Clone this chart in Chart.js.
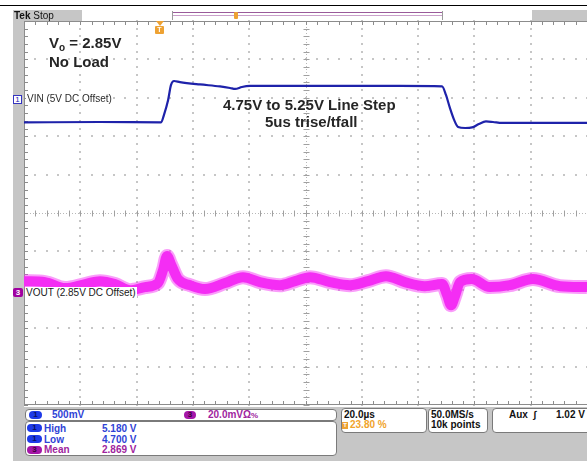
<!DOCTYPE html>
<html><head><meta charset="utf-8">
<script src="https://cdn.jsdelivr.net/npm/chart.js@4.4.0/dist/chart.umd.min.js"></script>
<style>
html,body{margin:0;padding:0;background:#fff;}
#wrap{position:relative;width:587px;height:461px;overflow:hidden;font-family:"Liberation Sans",Arial,sans-serif;}
#c{position:absolute;left:0;top:0;}
.a{position:absolute;white-space:nowrap;line-height:1;}
.box{position:absolute;background:#fff;border:1px solid #7a7a7a;border-radius:4px;box-sizing:border-box;}
.m{font-size:10px;font-weight:bold;}
.blue{color:#2f43d6;}
.purp{color:#a0249e;}
.pill{position:absolute;border-radius:4px;font-size:8px;font-weight:bold;text-align:center;line-height:8px;height:8px;}
.ann{font-weight:bold;font-size:15px;color:#262626;}
</style></head>
<body>
<div id="wrap">
<canvas id="c" width="587" height="461"></canvas>

<!-- frame / header -->
<div class="a" style="left:0;top:5px;width:587px;height:1px;background:#000"></div>
<div class="a" style="left:13px;top:10px;width:11px;height:451px;background:#c6c6c6"></div>
<div class="a" style="left:13px;top:10px;width:69px;height:11px;background:#c6c6c6"></div>
<div class="a" style="left:14px;top:11px;font-size:10px;color:#111"><b>Tek</b> Stop</div>
<div class="a" style="left:172px;top:12px;width:271px;height:1px;background:#9a5a9a"></div>
<div class="a" style="left:172px;top:15px;width:271px;height:1px;background:#caa0ca"></div>
<div class="a" style="left:172px;top:11px;width:1px;height:9px;background:#9a9a9a"></div>
<div class="a" style="left:442px;top:11px;width:1px;height:9px;background:#9a9a9a"></div>
<div class="a" style="left:234px;top:12px;width:4px;height:7px;background:#eea233;border-radius:1px"></div>
<div class="a" style="left:532px;top:10px;width:55px;height:11px;background:#c6c6c6"></div>

<!-- trigger marker -->
<div class="a" style="left:156px;top:21px;width:0;height:0;border-left:4px solid transparent;border-right:4px solid transparent;border-top:5px solid #eea233"></div>
<div class="a" style="left:155px;top:26px;width:9px;height:8px;background:#eea233;border-radius:1px;color:#fff;font-size:7px;font-weight:bold;text-align:center;line-height:8px">T</div>

<!-- channel markers -->
<div class="a" style="left:13px;top:95px;width:9px;height:9px;box-sizing:border-box;border:1px solid #3434c0;background:#fff;color:#2222b0;font-size:8px;text-align:center;line-height:7px">1</div>
<div class="a" style="left:26px;top:94px;font-size:10px;color:#2a2a2a;background:#fff;padding:0 1px">VIN (5V DC Offset)</div>
<div class="a" style="left:13px;top:288px;width:10px;height:9px;background:#a000a0;border-radius:2px;color:#fff;font-size:8px;font-weight:bold;text-align:center;line-height:9px">3</div>
<div class="a" style="left:25px;top:287px;font-size:10px;color:#1a1a1a;background:#fff;padding:1px 1px 0 1px;height:10px">VOUT (2.85V DC Offset)</div>

<!-- annotations -->
<div class="a ann" style="left:49px;top:35px">V<span style="font-size:10px;position:relative;top:3px">o</span> = 2.85V</div>
<div class="a ann" style="left:49px;top:54px">No Load</div>
<div class="a ann" style="left:223px;top:97px">4.75V to 5.25V Line Step</div>
<div class="a ann" style="left:265px;top:114px">5us trise/tfall</div>

<!-- bottom panel -->
<div class="a" style="left:13px;top:407px;width:574px;height:54px;background:#c6c6c6"></div>
<div class="box" style="left:25px;top:409px;width:312px;height:12px"></div>
<div class="box" style="left:25px;top:421px;width:312px;height:35px"></div>
<div class="box" style="left:341px;top:408px;width:86px;height:25px"></div>
<div class="box" style="left:428px;top:408px;width:60px;height:25px"></div>
<div class="box" style="left:492px;top:408px;width:100px;height:25px"></div>

<div class="pill" style="left:29px;top:411px;width:13px;background:#1e3ae8;color:#0a1060">1</div>
<div class="a m blue" style="left:52px;top:410px">500mV</div>
<div class="pill" style="left:184px;top:411px;width:12px;background:#a516a8;color:#3a003a">3</div>
<div class="a m purp" style="left:208px;top:410px">20.0mVΩ<span style="font-size:8px">%</span></div>

<div class="pill" style="left:27px;top:424px;width:15px;background:#1e3ae8;color:#0a1060">1</div>
<div class="a m blue" style="left:44px;top:424px">High</div>
<div class="a m blue" style="left:102px;top:424px">5.180 V</div>
<div class="pill" style="left:27px;top:435px;width:15px;background:#1e3ae8;color:#0a1060">1</div>
<div class="a m blue" style="left:44px;top:435px">Low</div>
<div class="a m blue" style="left:102px;top:435px">4.700 V</div>
<div class="pill" style="left:27px;top:446px;width:15px;background:#a516a8;color:#3a003a">3</div>
<div class="a m purp" style="left:44px;top:445px">Mean</div>
<div class="a m purp" style="left:102px;top:445px">2.869 V</div>

<div class="a m" style="left:344px;top:410px;color:#111">20.0µs</div>
<div class="a" style="left:342px;top:422px;width:6px;height:7px;background:#eea233;color:#fff;font-size:6px;font-weight:bold;text-align:center;line-height:7px">T</div>
<div class="a m" style="left:350px;top:420px;color:#f0a42c">23.80 %</div>
<div class="a m" style="left:431px;top:410px;color:#111">50.0MS/s</div>
<div class="a m" style="left:431px;top:420px;color:#111">10k points</div>
<div class="a m" style="left:509px;top:410px;color:#111">Aux &nbsp;<i>∫</i></div>
<div class="a m" style="left:556px;top:410px;color:#111">1.02 V</div>
</div>

<script>
const vinTimeUs = [-47.6,-20.6,1.1,2.1,3.6,4.6,5.7,7.8,14.9,22.0,25.6,27.4,29.8,32.7,50.5,86.0,100.9,102.3,103.7,105.2,106.6,109.1,111.6,114.0,116.5,119.0,122.2,152.4];
const vinVolts  = [4.694,4.700,4.694,4.79,4.987,5.18,5.234,5.22,5.189,5.163,5.143,5.13,5.156,5.169,5.169,5.169,5.163,5.052,4.883,4.727,4.635,4.622,4.629,4.674,4.707,4.700,4.688,4.688];

const voutTimeUs = [-47.6,-40.1,-33.0,-25.9,-20.6,-15.3,-9.9,-4.6,0,1.8,3.2,4.6,7.1,11.4,16.7,23.8,30.2,36.2,43.3,48.7,54.0,61.1,68.2,74.6,81.0,87.7,94.8,100.9,102.7,104.1,105.5,107.3,111.5,117.9,125.0,133.2,142.8,152.4];
const voutVolts  = [2.8557,2.8552,2.8521,2.8542,2.8557,2.8542,2.8510,2.8526,2.8547,2.8615,2.8688,2.8646,2.8568,2.8536,2.8516,2.8547,2.8578,2.8552,2.8536,2.8557,2.8578,2.8552,2.8536,2.8557,2.8583,2.8552,2.8531,2.8542,2.8484,2.8432,2.8479,2.8552,2.8568,2.8526,2.8536,2.8568,2.8531,2.8526];

// scope settings
const TIME_DIV = 20, TRIG_PCT = 23.8;
const CH1_OFFSET = 5, CH1_SCALE = 0.5, CH1_POS = 2.97;
const CH3_OFFSET = 2.85, CH3_SCALE = 0.02, CH3_POS = -2.06;

const xMin = -TRIG_PCT/100*10*TIME_DIV, xMax = xMin + 10*TIME_DIV;

const pts = (xs, ys) => xs.map((x,i)=>({x, y: ys[i]}));

const graticule = {
  id:'graticule',
  beforeDatasetsDraw(chart){
    const ctx = chart.ctx, xs = chart.scales.x, ys = chart.scales.yVin;
    const X = i => xs.getPixelForValue(xs.min + i*(xs.max-xs.min)/10);
    const Y = j => ys.getPixelForValue(ys.max - j*(ys.max-ys.min)/10);
    const L = X(0), R = X(10), T = Y(0), B = Y(10);
    ctx.save();
    ctx.fillStyle = '#c6c6c6';
    for (let i=1;i<10;i++){ if(i===5) continue; const x=Math.round(X(i));
      for (let k=0;k<=50;k++){ const y=Math.round(T+(B-T)*k/50); ctx.fillRect(x-1,y-1,2,2);} }
    for (let j=1;j<10;j++){ if(j===5) continue; const y=Math.round(Y(j));
      for (let k=0;k<=50;k++){ const x=Math.round(L+(R-L)*k/50); ctx.fillRect(x-1,y-1,2,2);} }
    // centre crosshair
    const cx = Math.round(X(5))+0.5, cy = Math.round(Y(5))+0.5;
    ctx.strokeStyle = '#b8b8b8'; ctx.lineWidth = 1;
    ctx.setLineDash([1,2]);
    ctx.beginPath(); ctx.moveTo(cx,T); ctx.lineTo(cx,B); ctx.moveTo(L,cy); ctx.lineTo(R,cy); ctx.stroke();
    ctx.setLineDash([]);
    ctx.strokeStyle = '#a0a0a0';
    ctx.beginPath();
    for (let k=0;k<=50;k++){
      const y=Math.round(T+(B-T)*k/50)+0.5; ctx.moveTo(cx-3,y); ctx.lineTo(cx+3,y);
      const x=Math.round(L+(R-L)*k/50)+0.5; ctx.moveTo(x,cy-3); ctx.lineTo(x,cy+3);
    }
    ctx.stroke();
    // frame with ticks
    ctx.strokeStyle = '#8c8c8c';
    ctx.beginPath();
    ctx.moveTo(L+0.5,T); ctx.lineTo(L+0.5,B);
    ctx.moveTo(L,T+0.5); ctx.lineTo(R,T+0.5);
    ctx.moveTo(L,B-0.5); ctx.lineTo(R,B-0.5);
    for (let k=0;k<=50;k++){
      const x=Math.round(L+(R-L)*k/50)+0.5;
      ctx.moveTo(x,T); ctx.lineTo(x,T+4); ctx.moveTo(x,B); ctx.lineTo(x,B-4);
      const y=Math.round(T+(B-T)*k/50)+0.5;
      ctx.moveTo(L,y); ctx.lineTo(L+4,y);
    }
    ctx.stroke();
    ctx.restore();
  }
};

new Chart(document.getElementById('c'), {
  type:'line',
  data:{ datasets:[
    { label:'VOUT halo', data: pts(voutTimeUs, voutVolts), yAxisID:'yVout',
      borderColor:'rgba(245,60,245,0.5)', borderWidth:14, pointRadius:0,
      cubicInterpolationMode:'monotone', borderJoinStyle:'round' },
    { label:'VOUT', data: pts(voutTimeUs, voutVolts), yAxisID:'yVout',
      borderColor:'#f21ef2', borderWidth:10, pointRadius:0,
      cubicInterpolationMode:'monotone', borderJoinStyle:'round' },
    { label:'VIN', data: pts(vinTimeUs, vinVolts), yAxisID:'yVin',
      borderColor:'#1e22aa', borderWidth:2.2, pointRadius:0,
      cubicInterpolationMode:'monotone' }
  ]},
  options:{
    responsive:false, animation:false, devicePixelRatio:1,
    layout:{ padding:{ left:24, top:21, right:0, bottom:56 } },
    plugins:{ legend:{display:false}, tooltip:{enabled:false} },
    events:[],
    scales:{
      x:{ type:'linear', min:xMin, max:xMax, display:false },
      yVin:{ type:'linear', display:false,
        min: CH1_OFFSET-(5+CH1_POS)*CH1_SCALE, max: CH1_OFFSET+(5-CH1_POS)*CH1_SCALE },
      yVout:{ type:'linear', display:false,
        min: CH3_OFFSET-(5+CH3_POS)*CH3_SCALE, max: CH3_OFFSET+(5-CH3_POS)*CH3_SCALE }
    }
  },
  plugins:[graticule]
});
</script>
</body></html>
